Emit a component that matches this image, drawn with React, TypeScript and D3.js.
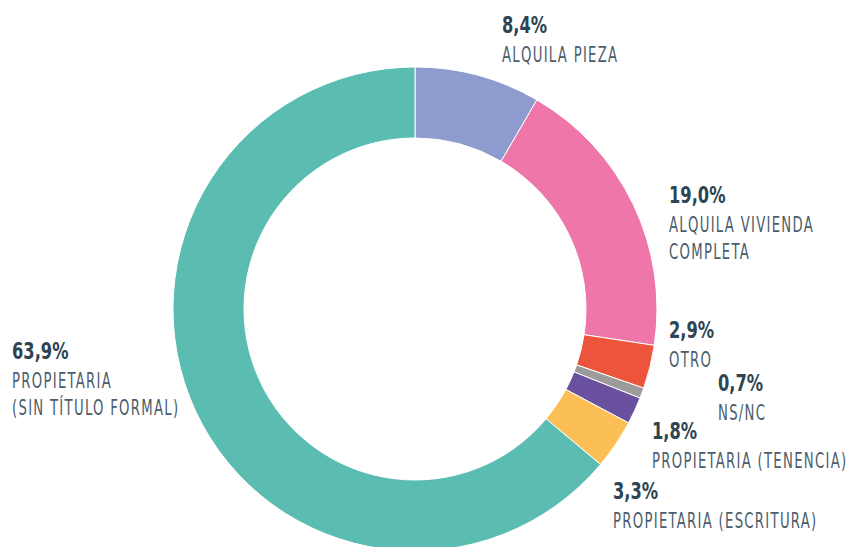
import React from "react";
import * as d3 from "d3";

const categories = [
  "ALQUILA PIEZA",
  "ALQUILA VIVIENDA COMPLETA",
  "OTRO",
  "NS/NC",
  "PROPIETARIA (TENENCIA)",
  "PROPIETARIA (ESCRITURA)",
  "PROPIETARIA (SIN TÍTULO FORMAL)",
];
const values = [8.4, 19.0, 2.9, 0.7, 1.8, 3.3, 63.9];
const colors = ["#8e9bcf", "#ee76a8", "#ec543b", "#9b9b9b", "#6a51a0", "#fbbf55", "#5bbcb1"];
const labelLines = [
  ["ALQUILA PIEZA"],
  ["ALQUILA VIVIENDA", "COMPLETA"],
  ["OTRO"],
  ["NS/NC"],
  ["PROPIETARIA (TENENCIA)"],
  ["PROPIETARIA (ESCRITURA)"],
  ["PROPIETARIA", "(SIN TÍTULO FORMAL)"],
];
// label anchor (x, baseline of value)
const labelPos: [number, number][] = [
  [502, 33],
  [669, 203],
  [669, 338],
  [718, 391],
  [652, 439],
  [613, 499],
  [12, 359],
];

const W = 847, H = 547;
const cx = 415, cy = 309, R = 242, r = 171;
const FONT = "'DejaVu Sans Condensed', 'DejaVu Sans', sans-serif";

export default function App() {
  const pie = d3.pie<number>().value((d) => d).sort(null);
  const arcs = pie(values);
  const arc = d3.arc<d3.PieArcDatum<number>>().innerRadius(r).outerRadius(R);
  const fmt = (v: number) => v.toFixed(1).replace(".", ",") + "%";
  return (
    <svg width={W} height={H} style={{ position: "absolute", left: 0, top: 0, background: "#fff" }}>
      <g transform={`translate(${cx},${cy})`}>
        {arcs.map((a, i) => (
          <path key={categories[i]} d={arc(a) || ""} fill={colors[i]} stroke="#fff" strokeWidth={1} />
        ))}
      </g>
      {labelPos.map(([x, y], i) => (
        <g key={i} fontFamily={FONT}>
          <text transform={`translate(${x},${y}) scale(0.77,1)`} fontSize={23.5} fontWeight="bold" fill="#2d4452">
            {fmt(values[i])}
          </text>
          {labelLines[i].map((l, j) => (
            <text
              key={j}
              transform={`translate(${x},${y + 29 + j * 27}) scale(0.7,1)`}
              fontSize={21}
              fill="#4b5d6b"
              letterSpacing={1.85}
            >
              {l}
            </text>
          ))}
        </g>
      ))}
    </svg>
  );
}
